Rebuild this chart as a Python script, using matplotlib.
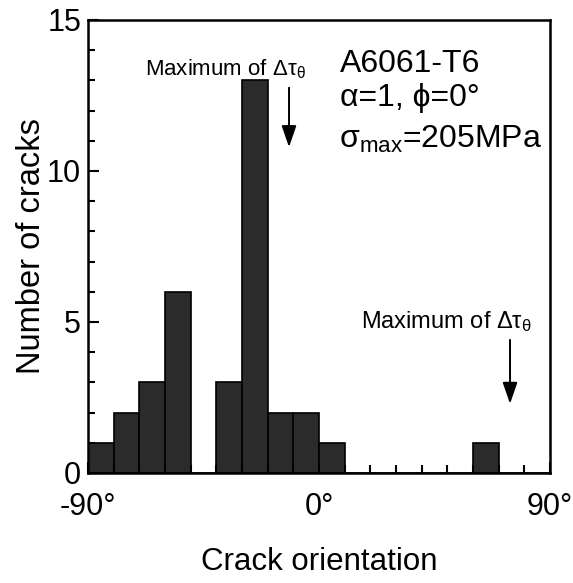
import matplotlib
matplotlib.use('Agg')
import matplotlib.pyplot as plt
from matplotlib.ticker import MultipleLocator, FixedLocator

import numpy as np

# Histogram of crack orientation (10 deg bins from -90 to 90)
bin_edges = np.arange(-90, 91, 10)
counts = [1, 2, 3, 6, 0, 3, 13, 2, 2, 1, 0, 0, 0, 0, 0, 1, 0, 0]

# Arrows marking the maximum of delta tau_theta: (x, y_start, y_end)
arrow_x = [-11.7, 74.4]
arrow_top = [12.85, 4.5]
arrow_tip = [10.7, 2.2]

plt.rcParams['font.family'] = ['Liberation Sans', 'DejaVu Sans']
plt.rcParams['mathtext.default'] = 'regular'

fig = plt.figure(figsize=(5.73, 5.83), dpi=100)
ax = fig.add_axes([0.1536, 0.1887, 0.8064, 0.777])

ax.bar(bin_edges[:-1], counts, width=10, align='edge',
       facecolor='#2b2b2b', edgecolor='black', linewidth=1.2)

for x, y0, y1 in zip(arrow_x, arrow_top, arrow_tip):
    ax.annotate('', xy=(x, y1), xytext=(x, y0),
                arrowprops=dict(arrowstyle='-|>,head_length=1.3,head_width=0.45',
                                color='black', lw=1.4))

ax.text(-67.8, 13.18, r'Maximum of $\Delta\tau_\theta$', fontsize=16,
        ha='left', va='baseline')
ax.text(16.4, 4.8, r'Maximum of $\Delta\tau_\theta$', fontsize=17,
        ha='left', va='baseline')

ax.text(8.2, 13.28, 'A6061-T6', fontsize=23, ha='left', va='baseline')
ax.text(8.2, 12.15, 'α=1, ϕ=0°', fontsize=23, ha='left', va='baseline')
ax.text(7.8, 10.76, r'$\sigma_{max}$=205MPa', fontsize=23, ha='left', va='baseline')

ax.set_xlim(-90, 90)
ax.set_ylim(0, 15)
ax.xaxis.set_major_locator(FixedLocator([-90, 0, 90]))
ax.set_xticklabels(['-90°', '0°', '90°'])
ax.xaxis.set_minor_locator(MultipleLocator(10))
ax.yaxis.set_major_locator(MultipleLocator(5))
ax.yaxis.set_minor_locator(MultipleLocator(1))

ax.tick_params(axis='both', which='both', direction='in', width=1.5,
               labelsize=22, top=False, right=False)
ax.tick_params(axis='x', which='major', length=8, pad=14)
ax.tick_params(axis='x', which='minor', length=6)
ax.tick_params(axis='y', which='major', length=8, pad=5)
ax.tick_params(axis='y', which='minor', length=5)

for spine in ax.spines.values():
    spine.set_linewidth(1.8)

ax.set_xlabel('Crack orientation', fontsize=22.5, labelpad=18)
ax.set_ylabel('Number of cracks', fontsize=23.5, labelpad=0)

plt.savefig('out.png', dpi=100)
plt.close(fig)
